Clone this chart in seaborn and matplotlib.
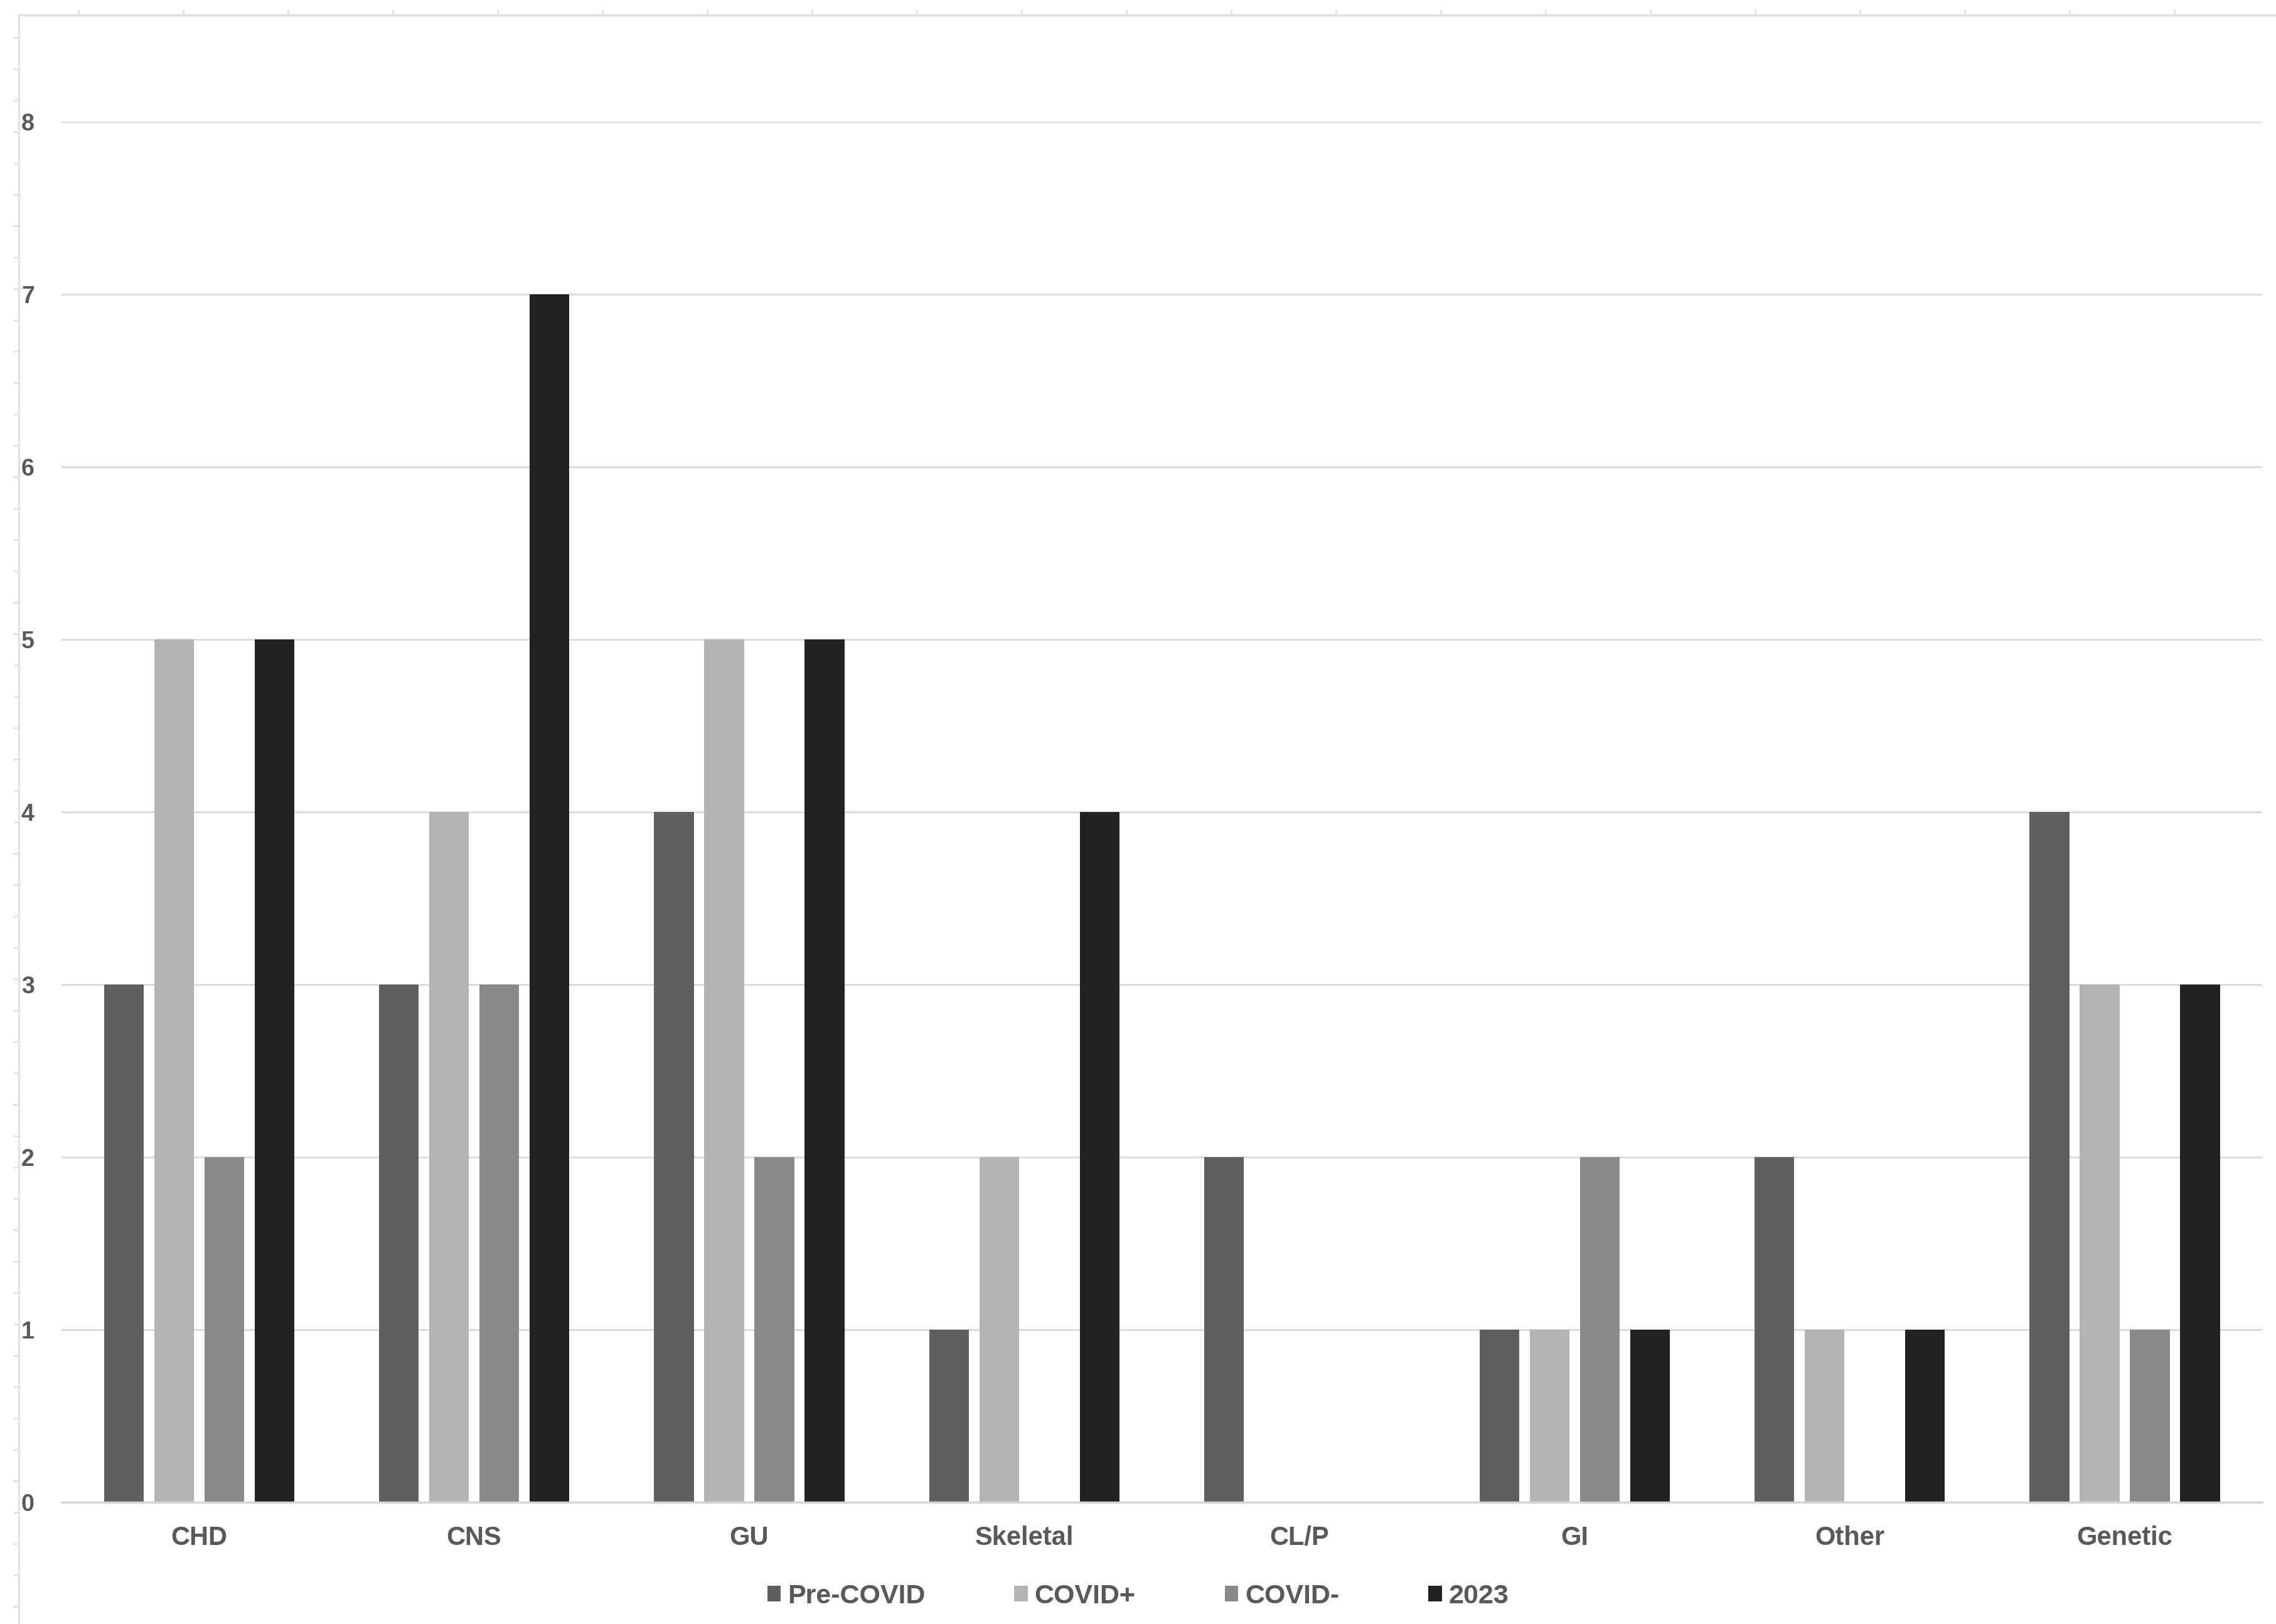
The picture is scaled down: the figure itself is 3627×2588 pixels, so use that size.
import pandas as pd
import matplotlib
matplotlib.use('Agg')
import matplotlib.pyplot as plt
from matplotlib.lines import Line2D
import seaborn as sns

# 数据
categories = ['CHD', 'CNS', 'GU', 'Skeletal', 'CL/P', 'GI', 'Other', 'Genetic']
groups = ['Pre-COVID', 'COVID+', 'COVID-', '2023']
pre_covid = [3, 3, 4, 1, 2, 1, 2, 4]
covid_pos = [5, 4, 5, 2, 0, 1, 1, 3]
covid_neg = [2, 3, 2, 0, 0, 2, 0, 1]
y2023 = [5, 7, 5, 4, 0, 1, 1, 3]
y_ticks = [0, 1, 2, 3, 4, 5, 6, 7, 8]

colors = ['#5f5f5f', '#b3b3b3', '#898989', '#222222']

sns.set_theme(style='white')
plt.rcParams['font.family'] = ['Liberation Sans', 'DejaVu Sans']


def main():
    rows = []
    for name, vals in zip(groups, [pre_covid, covid_pos, covid_neg, y2023]):
        for cat, v in zip(categories, vals):
            rows.append({'类别': cat, '组': name, '数量': v})
    df = pd.DataFrame(rows)

    fig = plt.figure(figsize=(36.27, 25.88), dpi=100)
    ax = fig.add_axes([0.027, 0.075, 0.967, 0.85])

    sns.barplot(data=df, x='类别', y='数量', hue='组', order=categories,
                hue_order=groups, palette=colors, width=0.73, gap=0.21,
                saturation=1, edgecolor='none', linewidth=0, ax=ax, legend=True)

    ax.set_xlim(-0.5, 7.5)
    ax.set_ylim(0, 8)
    ax.set_yticks(y_ticks)
    ax.set_xlabel('')
    ax.set_ylabel('')
    ax.yaxis.grid(True, color='#dcdcdc', linewidth=2.2)
    ax.set_axisbelow(True)
    for s in ['top', 'right', 'left']:
        ax.spines[s].set_visible(False)
    ax.spines['bottom'].set_color('#d4d4d4')
    ax.spines['bottom'].set_linewidth(2.5)

    ax.tick_params(axis='x', length=0, pad=27, labelsize=30, labelcolor='#595959')
    ax.tick_params(axis='y', length=0, pad=31, labelsize=27, labelcolor='#595959')
    for lab in ax.get_xticklabels() + ax.get_yticklabels():
        lab.set_fontweight('bold')

    # 图例放在底部
    handles, labels = ax.get_legend_handles_labels()
    ax.get_legend().remove()
    fig.legend(handles, labels, loc='center', bbox_to_anchor=(0.5, 0.017),
               ncol=4, frameon=False, handlelength=0.5, handleheight=0.5,
               handletextpad=0.25, columnspacing=3.3,
               prop={'size': 31, 'weight': 'bold'}, labelcolor='#595959')

    # 截图边缘的标尺
    edge = '#e2e2e2'
    fig.add_artist(Line2D([30 / 3627, 1], [1 - 24 / 2588] * 2, color=edge, lw=2.5))
    fig.add_artist(Line2D([30 / 3627] * 2, [0, 1 - 24 / 2588], color=edge, lw=2.5))
    for yy in range(60, 2588, 50):
        fig.add_artist(Line2D([22 / 3627, 30 / 3627], [1 - yy / 2588] * 2, color=edge, lw=2))
    for xx in range(125, 3627, 167):
        fig.add_artist(Line2D([xx / 3627] * 2, [1 - 16 / 2588, 1 - 24 / 2588], color=edge, lw=2))

    plt.savefig('out.png', dpi=100, facecolor='white')


if __name__ == '__main__':
    main()
